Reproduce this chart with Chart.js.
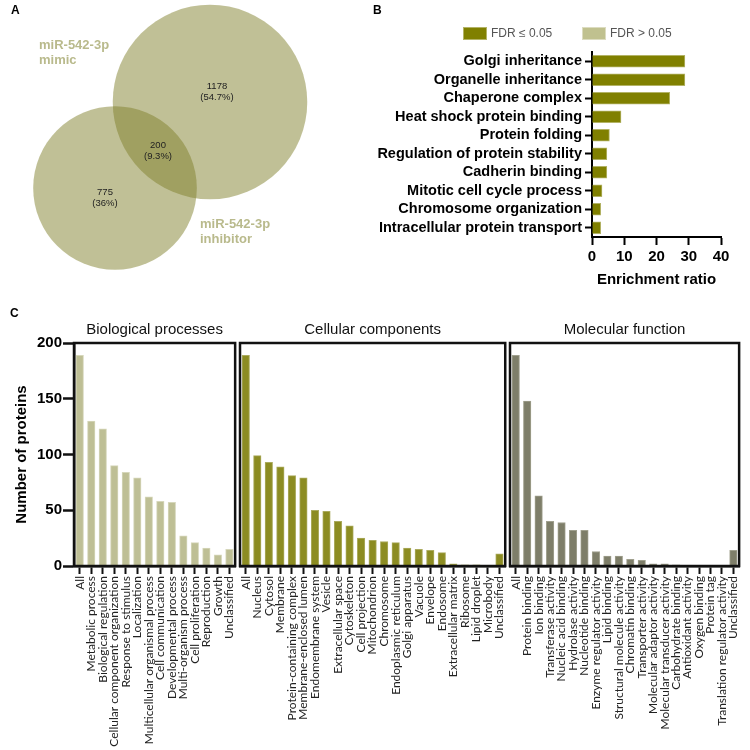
<!DOCTYPE html>
<html><head><meta charset="utf-8">
<script src="https://cdn.jsdelivr.net/npm/chart.js@4.4.1/dist/chart.umd.min.js"></script>
<style>
html,body{margin:0;padding:0;background:#fff;}
#wrap{position:relative;width:750px;height:750px;overflow:hidden;font-family:"Liberation Sans",Arial,sans-serif;}
canvas{position:absolute;}
.lbl{position:absolute;font-weight:bold;font-size:12px;line-height:14px;color:#000;}
</style></head>
<body><div id="wrap">
<canvas id="venn" style="left:0;top:0" width="370" height="300"></canvas>
<canvas id="enrich" style="left:370px;top:0" width="380" height="300"></canvas>
<canvas id="bp" style="left:0;top:300px" width="246" height="450"></canvas>
<canvas id="cc" style="left:236px;top:300px" width="280" height="450"></canvas>
<canvas id="mf" style="left:506px;top:300px" width="244" height="450"></canvas>
<div class="lbl" style="left:11px;top:3px">A</div>
<div class="lbl" style="left:373px;top:3px">B</div>
<div class="lbl" style="left:10px;top:306px">C</div>
</div>
<script>
// ---------- DATA ----------
const vennSetNames = [['miR-542-3p', 'mimic'], ['miR-542-3p', 'inhibitor']];
const vennSetTotals = [1378, 975];           // 1178+200, 775+200
const vennRegionCounts = [1178, 200, 775];
const vennRegionPercents = ['54.7%', '9.3%', '36%'];

const enrichTerms = ['Golgi inheritance', 'Organelle inheritance', 'Chaperone complex',
  'Heat shock protein binding', 'Protein folding', 'Regulation of protein stability',
  'Cadherin binding', 'Mitotic cell cycle process', 'Chromosome organization',
  'Intracellular protein transport'];
const enrichRatio = [28.8, 28.8, 24.1, 9.0, 5.4, 4.6, 4.6, 3.1, 2.7, 2.7];
const fdrLabels = ['FDR \u2264 0.05', 'FDR > 0.05'];

const bpLabels = ['All', 'Metabolic process', 'Biological regulation', 'Cellular component organization',
  'Response to stimulus', 'Localization', 'Multicellular organismal process', 'Cell communication',
  'Developmental process', 'Multi-organism process', 'Cell proliferation', 'Reproduction', 'Growth', 'Unclassified'];
const bpCounts = [189, 130, 123, 90, 84, 79, 62, 58, 57, 27, 21, 16, 10, 15];

const ccLabels = ['All', 'Nucleus', 'Cytosol', 'Membrane', 'Protein-containing complex', 'Membrane-enclosed lumen',
  'Endomembrane system', 'Vesicle', 'Extracellular space', 'Cytoskeleton', 'Cell projection', 'Mitochondrion',
  'Chromosome', 'Endoplasmic reticulum', 'Golgi apparatus', 'Vacuole', 'Envelope', 'Endosome',
  'Extracellular matrix', 'Ribosome', 'Lipid droplet', 'Microbody', 'Unclassified'];
const ccCounts = [189, 99, 93, 89, 81, 79, 50, 49, 40, 36, 25, 23, 22, 21, 16, 15, 14, 12, 2, 1, 1, 0, 11];

const mfLabels = ['All', 'Protein binding', 'Ion binding', 'Transferase activity', 'Nucleic acid binding',
  'Hydrolase activity', 'Nucleotide binding', 'Enzyme regulator activity', 'Lipid binding',
  'Structural molecule activity', 'Chromatin binding', 'Transporter activity', 'Molecular adaptor activity',
  'Molecular transducer activity', 'Carbohydrate binding', 'Antioxidant activity', 'Oxygen binding',
  'Protein tag', 'Translation regulator activity', 'Unclassified'];
const mfCounts = [189, 148, 63, 40, 39, 32, 32, 13, 9, 9, 6, 5, 2, 2, 1, 0, 0, 0, 0, 14];

const countTicks = [0, 50, 100, 150, 200];
const enrichTicks = [0, 10, 20, 30, 40];

// ---------- PANEL A : Venn (bubble chart) ----------
const vennPlugin = {
  id: 'vennLabels',
  afterDatasetsDraw(chart, args, opts) {
    const {ctx, scales: {x, y}} = chart;
    ctx.save();
    ctx.textAlign = 'center'; ctx.textBaseline = 'middle';
    ctx.font = '9.5px "Liberation Sans", Arial, sans-serif';
    ctx.fillStyle = '#222';
    opts.regionPos.forEach((p, i) => {
      const px = x.getPixelForValue(p[0]), py = y.getPixelForValue(p[1]);
      ctx.fillText(String(vennRegionCounts[i]), px, py - 5);
      ctx.fillText('(' + vennRegionPercents[i] + ')', px, py + 6);
    });
    ctx.textAlign = 'left';
    ctx.font = 'bold 13px "Liberation Sans", Arial, sans-serif';
    ctx.fillStyle = '#b9ba8c';
    opts.namePos.forEach((p, i) => {
      const px = x.getPixelForValue(p[0]), py = y.getPixelForValue(p[1]);
      vennSetNames[i].forEach((line, k) => ctx.fillText(line, px, py + k * 15));
    });
    ctx.restore();
  }
};
const vennScale = 2.62;
new Chart(document.getElementById('venn'), {
  type: 'bubble',
  data: {
    datasets: [
      {label: vennSetNames[0].join(' '), data: [{x: 210, y: 102, r: vennScale * Math.sqrt(vennSetTotals[0])}],
       backgroundColor: 'rgba(127,127,41,0.49)', borderWidth: 0, clip: false},
      {label: vennSetNames[1].join(' '), data: [{x: 115, y: 188, r: vennScale * Math.sqrt(vennSetTotals[1])}],
       backgroundColor: 'rgba(127,127,41,0.49)', borderWidth: 0, clip: false}
    ]
  },
  options: {
    responsive: false, animation: false, events: [],
    layout: {padding: 0, autoPadding: false},
    scales: {
      x: {type: 'linear', min: 0, max: 370, display: false},
      y: {type: 'linear', min: 0, max: 300, reverse: true, display: false}
    },
    plugins: {
      legend: {display: false}, tooltip: {enabled: false},
      vennLabels: {regionPos: [[217, 91], [158, 150], [105, 197]], namePos: [[39, 45], [200, 224]]}
    }
  },
  plugins: [vennPlugin]
});

// ---------- PANEL B : enrichment ----------
const fdrLegendPlugin = {
  id: 'fdrLegend',
  afterDraw(chart, args, opts) {
    const {ctx, chartArea} = chart;
    ctx.save();
    chart.data.datasets.forEach((ds, i) => {
      const bx = chartArea.left + opts.offsets[i];
      const by = chartArea.top - 25;
      ctx.fillStyle = ds.backgroundColor;
      ctx.fillRect(bx, by, 24, 13);
      ctx.strokeStyle = ds.borderColor; ctx.lineWidth = 1;
      ctx.strokeRect(bx + 0.5, by + 0.5, 23, 12);
      ctx.fillStyle = '#555';
      ctx.font = '12px "Liberation Sans", Arial, sans-serif';
      ctx.textBaseline = 'middle'; ctx.textAlign = 'left';
      ctx.fillText(ds.label, bx + 28, by + 7);
    });
    ctx.restore();
  }
};
new Chart(document.getElementById('enrich'), {
  type: 'bar',
  data: {
    labels: enrichTerms,
    datasets: [
      {label: fdrLabels[0], data: enrichRatio, backgroundColor: '#808000', borderColor: '#b3b366', borderWidth: 1, barThickness: 12, grouped: false},
      {label: fdrLabels[1], data: [], backgroundColor: '#c0c18f', borderColor: '#dcdcc0', borderWidth: 1, barThickness: 12, grouped: false}
    ]
  },
  options: {
    indexAxis: 'y', responsive: false, animation: false, events: [],
    layout: {padding: {top: 52, right: 29, left: 0, bottom: 0}},
    scales: {
      x: {
        type: 'linear', min: 0, max: 40,
        afterBuildTicks: s => { s.ticks = enrichTicks.map(v => ({value: v})); },
        ticks: {font: {family: '"Liberation Sans", Arial', size: 15, weight: 'bold'}, color: '#000', padding: 3},
        grid: {drawOnChartArea: false, drawTicks: true, tickLength: 8, tickWidth: 2, tickColor: '#000'},
        border: {display: true, width: 2, color: '#000'},
        title: {display: true, text: 'Enrichment ratio', color: '#000',
          font: {family: '"Liberation Sans", Arial', size: 15, weight: 'bold'}, padding: {top: 2, bottom: 11}},
        afterFit: s => { s.height = 63; }
      },
      y: {
        type: 'category',
        ticks: {autoSkip: false, font: {family: '"Liberation Sans", Arial', size: 14.5, weight: 'bold'}, color: '#000', padding: 3},
        grid: {drawOnChartArea: false, drawTicks: true, tickLength: 7, tickWidth: 2, tickColor: '#000', offset: false},
        border: {display: true, width: 2, color: '#000'},
        afterFit: s => { s.width = 222; }
      }
    },
    plugins: {legend: {display: false}, tooltip: {enabled: false}, fdrLegend: {offsets: [-129, -10]}}
  },
  plugins: [fdrLegendPlugin]
});

// ---------- PANEL C : GO categories ----------
const framePlugin = {
  id: 'frame',
  afterDatasetsDraw(chart) {
    const {ctx, chartArea: {left, top, right, bottom}} = chart;
    ctx.save();
    ctx.strokeStyle = '#111'; ctx.lineWidth = 2.5;
    ctx.strokeRect(left, top, right - left, bottom - top);
    ctx.restore();
  }
};
const groupTitlePlugin = {
  id: 'groupTitle',
  afterDraw(chart, args, opts) {
    const {ctx, chartArea: {left, right, top}} = chart;
    ctx.save();
    ctx.font = '15px "Liberation Sans", Arial, sans-serif';
    ctx.fillStyle = '#111'; ctx.textAlign = 'center'; ctx.textBaseline = 'middle';
    ctx.fillText(opts.text, (left + right) / 2, top - 13);
    ctx.restore();
  }
};
function groupChart(id, title, labels, counts, fill, edge, showY, padL, padR) {
  return new Chart(document.getElementById(id), {
    type: 'bar',
    data: {labels: labels, datasets: [{label: title, data: counts, backgroundColor: fill, borderColor: edge, borderWidth: 1, barThickness: 7.5}]},
    options: {
      responsive: false, animation: false, events: [],
      layout: {padding: {top: 43, left: padL, right: padR, bottom: 0}},
      scales: {
        x: {
          offset: true,
          ticks: {autoSkip: false, maxRotation: 90, minRotation: 90, padding: 2,
            font: {family: 'Lato, "Liberation Sans", sans-serif', size: 12}, color: '#222'},
          grid: {drawOnChartArea: false, drawTicks: true, tickLength: 8, tickWidth: 2, tickColor: '#111', offset: false},
          border: {display: true, width: 2.5, color: '#111'},
          afterFit: s => { s.height = 184; }
        },
        y: {
          display: showY, min: 0, max: 200,
          afterBuildTicks: s => { s.ticks = countTicks.map(v => ({value: v})); },
          ticks: {font: {family: '"Liberation Sans", Arial', size: 15, weight: 'bold'}, color: '#000', padding: 1},
          grid: {drawOnChartArea: false, drawTicks: true, tickLength: 11, tickWidth: 2.5, tickColor: '#111'},
          border: {display: true, width: 2.5, color: '#111'},
          title: {display: true, text: 'Number of proteins', color: '#000',
            font: {family: '"Liberation Sans", Arial', size: 15, weight: 'bold'}, padding: {top: 13, bottom: 0}},
          afterFit: s => { s.width = showY ? 74 : 0; }
        }
      },
      plugins: {legend: {display: false}, tooltip: {enabled: false}, groupTitle: {text: title}}
    },
    plugins: [framePlugin, groupTitlePlugin]
  });
}
groupChart('bp', 'Biological processes', bpLabels, bpCounts, '#bebf95', '#d6d7bb', true, 0, 6);
groupChart('cc', 'Cellular components', ccLabels, ccCounts, '#8c8c22', '#abab5e', false, 4, 6);
groupChart('mf', 'Molecular function', mfLabels, mfCounts, '#7e7e69', '#a0a08e', false, 4, 8);
</script>
</body></html>
